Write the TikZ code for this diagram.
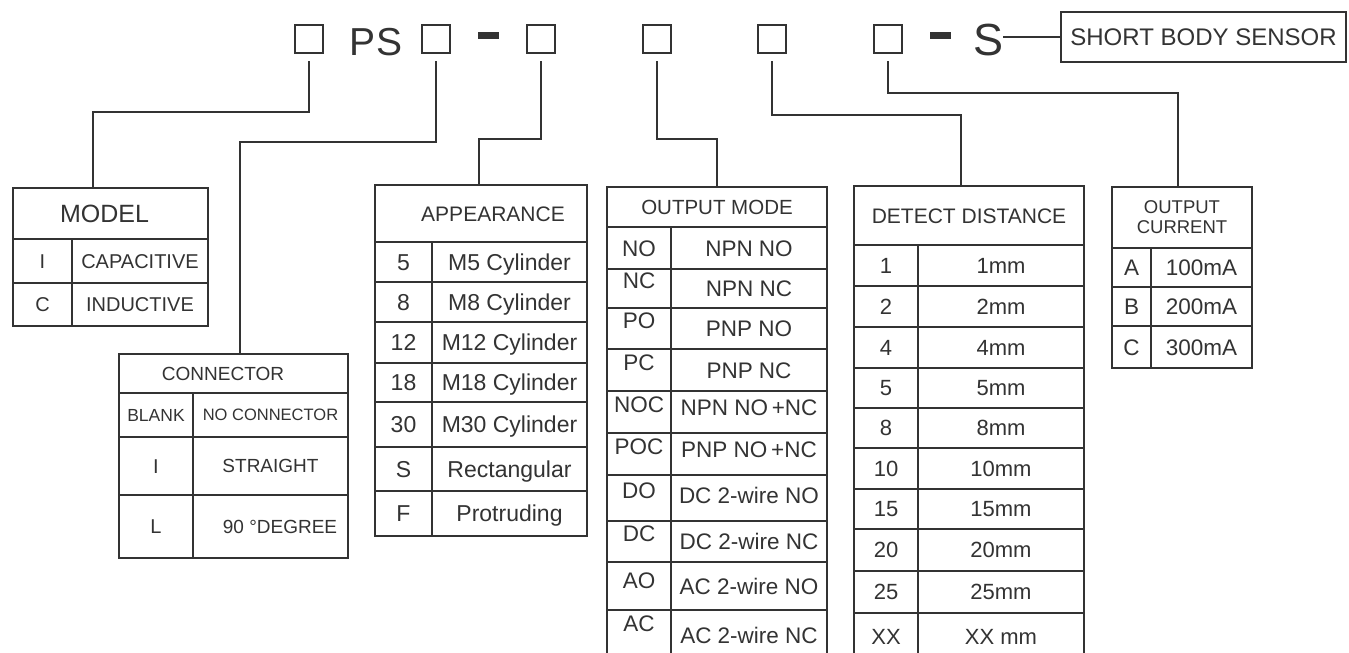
\documentclass[tikz,border=0pt]{standalone}
\usepackage{fontspec}
\setmainfont{Liberation Sans}
\usetikzlibrary{positioning,calc}
\definecolor{ink}{HTML}{333333}
\newcommand\txtsize[1]{\fontsize{#1}{#1}\selectfont}
\tikzset{
  sq/.style={draw=ink,line width=2pt,minimum size=28pt,inner sep=0pt},
  bar/.style={fill=ink,inner sep=0pt,minimum width=21pt,minimum height=7pt},
  codetxt/.style={inner sep=0pt,text=ink,anchor=base},
  wire/.style={draw=ink,line width=1.4pt},
  tabframe/.style={draw=ink,line width=1.8pt,inner sep=0pt,text=ink},
  fsz/.code={\pgfmathsetmacro\cellcapht{0.716*#1}\edef\cellfs{#1}%
    \pgfkeysalso{/tikz/font=\txtsize{\cellfs},/tikz/text height=\cellcapht pt,/tikz/text depth=0pt}},
  cell/.style={tabframe},
}

\begin{document}
\begin{tikzpicture}[x=1pt,y=-1pt]
  \useasboundingbox (0,0) rectangle (1349,653);
  \clip (0,0) rectangle (1349,653);
  \fill[white] (0,0) rectangle (1349,653);

  % type code line
  \node[sq] (sq1) at (309,39) {};
  \node[codetxt,font=\txtsize{39}] (ps) at (376,55) {PS};
  \node[sq] (sq2) at (436,39) {};
  \node[bar] (dash1) at (488,35.5) {};
  \node[sq] (sq3) at (541,39) {};
  \node[sq] (sq4) at (657,39) {};
  \node[sq] (sq5) at (772,39) {};
  \node[sq] (sq6) at (888,39) {};
  \node[bar] (dash2) at (940,35.5) {};
  \node[codetxt,font=\txtsize{45}] (sfx) at (988,55) {S};
  \node[tabframe,fsz=24,minimum width=285pt,minimum height=50pt] (short) at (1203.5,37) {SHORT BODY SENSOR};
  \draw[wire] (short.west) -- (short.west -| sfx.east);

  % model
  \node[tabframe,fsz=25,minimum width=195pt,minimum height=51pt] (model) at (110.5,213.5) {\hspace*{-12pt}MODEL};
  \foreach \k/\v/\ya/\yb [count=\i] in {I/CAPACITIVE/239/283,C/INDUCTIVE/283/326}{
    \pgfmathsetmacro\rowh{\yb-\ya}
    \node[cell,fsz=20,minimum width=59pt,minimum height=\rowh pt] (model-k\i) at (42.5,{(\ya+\yb)/2}) {\k};
    \node[cell,fsz=20,minimum width=136pt,minimum height=\rowh pt] (model-v\i) at (140,{(\ya+\yb)/2}) {\v};
  }

  % connector
  \node[tabframe,fsz=19,minimum width=229pt,minimum height=39pt] (conn) at (233.5,373.5) {\hspace*{-21pt}CONNECTOR};
  \foreach \k/\v/\ya/\yb/\fk/\fv [count=\i] in {BLANK/NO CONNECTOR/393/437/17.5/16.5,I/STRAIGHT/437/495/20/19,L/\hspace*{19pt}90 °DEGREE/495/558/20/19}{
    \pgfmathsetmacro\rowh{\yb-\ya}
    \node[cell,fsz=\fk,minimum width=74pt,minimum height=\rowh pt] (conn-k\i) at (156,{(\ya+\yb)/2}) {\k};
    \node[cell,fsz=\fv,minimum width=155pt,minimum height=\rowh pt] (conn-v\i) at (270.5,{(\ya+\yb)/2}) {\v};
  }

  % appearance
  \node[tabframe,fsz=21,minimum width=212pt,minimum height=57pt] (shape) at (481,213.5) {\hspace*{24pt}APPEARANCE};
  \foreach \k/\v/\ya/\yb [count=\i] in {5/M5 Cylinder/242/282,8/M8 Cylinder/282/322,12/M12 Cylinder/322/363,18/M18 Cylinder/363/402,30/M30 Cylinder/402/447,S/Rectangular/447/491,F/Protruding/491/536}{
    \pgfmathsetmacro\rowh{\yb-\ya}
    \node[cell,fsz=23,minimum width=57pt,minimum height=\rowh pt] (shape-k\i) at (403.5,{(\ya+\yb)/2}) {\k};
    \node[cell,fsz=23,minimum width=155pt,minimum height=\rowh pt] (shape-v\i) at (509.5,{(\ya+\yb)/2}) {\v};
  }

  % output mode
  \node[tabframe,fsz=20.5,minimum width=220pt,minimum height=40pt] (outmode) at (717,207) {OUTPUT MODE};
  \foreach \k/\v/\ya/\yb/\sk/\sv [count=\i] in {NO/NPN NO/227/269/0/0,NC/NPN NC/269/308/8/0,PO/PNP NO/308/349/8/0,PC/PNP NC/349/391/8/0,NOC/NPN NO\,+NC/391/433/8/5,POC/PNP NO\,+NC/433/475/8/5,DO/DC 2-wire NO/475/521/8/3,DC/DC 2-wire NC/521/562/8/0,AO/AC 2-wire NO/562/610/6/0,AC/AC 2-wire NC/610/660/12/0}{
    \pgfmathsetmacro\rowh{\yb-\ya}
    \node[cell,fsz=22.5,minimum width=64pt,minimum height=\rowh pt] (outmode-k\i) at (639,{(\ya+\yb)/2}) {\raisebox{\sk pt}{\k}};
    \node[cell,fsz=22.5,minimum width=156pt,minimum height=\rowh pt] (outmode-v\i) at (749,{(\ya+\yb)/2}) {\raisebox{\sv pt}{\v}};
  }

  % detect distance
  \node[tabframe,fsz=21,minimum width=230pt,minimum height=59pt] (dist) at (969,215.5) {DETECT DISTANCE};
  \foreach \k/\v/\ya/\yb [count=\i] in {1/1mm/245/286,2/2mm/286/327,4/4mm/327/368,5/5mm/368/408,8/8mm/408/448,10/10mm/448/489,15/15mm/489/529,20/20mm/529/571,25/25mm/571/613,XX/XX mm/613/660}{
    \pgfmathsetmacro\rowh{\yb-\ya}
    \node[cell,fsz=22,minimum width=64pt,minimum height=\rowh pt] (dist-k\i) at (886,{(\ya+\yb)/2}) {\k};
    \node[cell,fsz=22,minimum width=166pt,minimum height=\rowh pt] (dist-v\i) at (1001,{(\ya+\yb)/2}) {\v};
  }

  % output current
  \node[tabframe,align=center,font=\fontsize{18.5}{20}\selectfont,minimum width=140pt,minimum height=61pt] (current) at (1182,217.5) {OUTPUT\\CURRENT};
  \foreach \k/\v/\ya/\yb [count=\i] in {A/100mA/248/287,B/200mA/287/326,C/300mA/326/368}{
    \pgfmathsetmacro\rowh{\yb-\ya}
    \node[cell,fsz=22.5,minimum width=39pt,minimum height=\rowh pt] (current-k\i) at (1131.5,{(\ya+\yb)/2}) {\k};
    \node[cell,fsz=22.5,minimum width=101pt,minimum height=\rowh pt] (current-v\i) at (1201.5,{(\ya+\yb)/2}) {\v};
  }

  % leaders from code boxes to tables
  \draw[wire] ([yshift=-7pt]sq1.south) -- ++(0,51) -| ([xshift=-17.5pt]model.north);
  \draw[wire] ([yshift=-7pt]sq2.south) -- ++(0,81) -| ([xshift=6.5pt]conn.north);
  \draw[wire] ([yshift=-7pt]sq3.south) -- ++(0,78) -| ([xshift=-2pt]shape.north);
  \draw[wire] ([yshift=-7pt]sq4.south) -- ++(0,78) -| (outmode.north);
  \draw[wire] ([yshift=-7pt]sq5.south) -- ++(0,54) -| ([xshift=-8pt]dist.north);
  \draw[wire] ([yshift=-7pt]sq6.south) -- ++(0,32) -| ([xshift=-4pt]current.north);
\end{tikzpicture}
\end{document}
